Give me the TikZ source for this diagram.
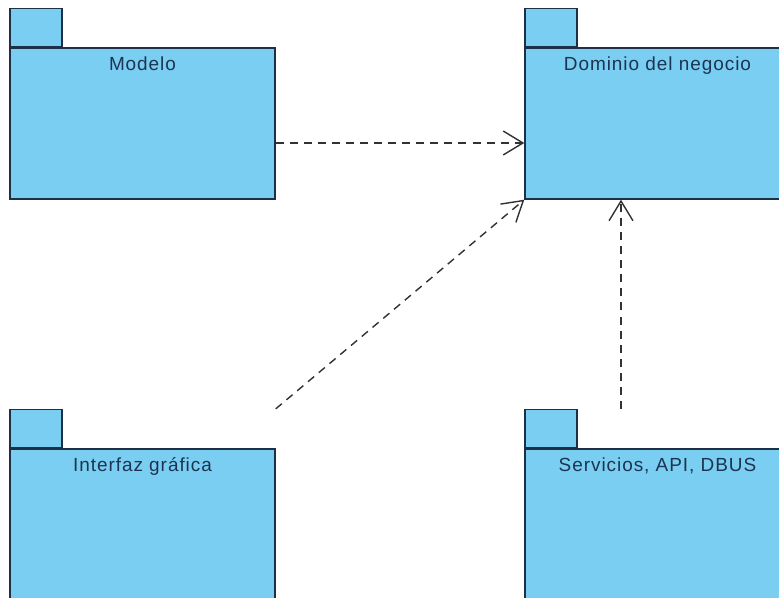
\documentclass[tikz,border=0pt]{standalone}
\usepackage{fontspec}
\setmainfont{Liberation Sans}[LetterSpace=5]
\usetikzlibrary{arrows.meta}

\definecolor{pkgfill}{RGB}{122,206,242}
\definecolor{pkgline}{RGB}{30,48,70}
\definecolor{pkgtext}{RGB}{28,52,82}
\definecolor{depline}{RGB}{50,50,50}

\begin{document}
\begin{tikzpicture}[
  pkg/.style={draw=pkgline, fill=pkgfill, line width=1pt, minimum width=6.625cm, minimum height=3.775cm, inner sep=0pt},
  pkgtab/.style={draw=pkgline, fill=pkgfill, line width=1pt, minimum width=1.3cm, minimum height=0.95cm, inner sep=0pt, anchor=south west},
  pkgname/.style={text=pkgtext, font=\fontsize{13.5}{16}\selectfont, anchor=base, yshift=-0.575cm},
  dep/.style={draw=depline, line width=1pt, dash pattern=on 5.7pt off 4.3pt, -{Straight Barb[length=14pt, width=17pt]}}
]
  % Define parameters
  \def\xl{3.5625}   % centre x of the left packages
  \def\xr{16.4375}  % centre x of the right packages
  \def\yt{11.8625}  % centre y of the upper packages
  \def\yb{1.8375}   % centre y of the lower packages

  \useasboundingbox (0,0) rectangle (19.475,14.95);
  \clip (0,0) rectangle (19.475,14.95);

  % Draw the packages
  \node[pkg, label={[pkgname]north:Modelo}] (modelo) at (\xl,\yt) {};
  \node[pkgtab] (modelo-tab) at (modelo.north west) {};

  \node[pkg, label={[pkgname]north:Dominio del negocio}] (dominio) at (\xr,\yt) {};
  \node[pkgtab] (dominio-tab) at (dominio.north west) {};

  \node[pkg, label={[pkgname]north:Interfaz gráfica}] (interfaz) at (\xl,\yb) {};
  \node[pkgtab] (interfaz-tab) at (interfaz.north west) {};

  \node[pkg, label={[pkgname]north:Servicios, API, DBUS}] (servicios) at (\xr,\yb) {};
  \node[pkgtab] (servicios-tab) at (servicios.north west) {};

  % Draw the dependencies
  \draw[dep] ([yshift=-0.4875cm]modelo.east) -- ([yshift=-0.4875cm]dominio.west);
  \draw[dep] (interfaz.east |- interfaz-tab.north) -- (dominio.south west);
  \coordinate (srv-end) at ([xshift=-0.9125cm]dominio.south);
  \draw[dep] (srv-end |- servicios-tab.north) -- (srv-end);

\end{tikzpicture}
\end{document}
